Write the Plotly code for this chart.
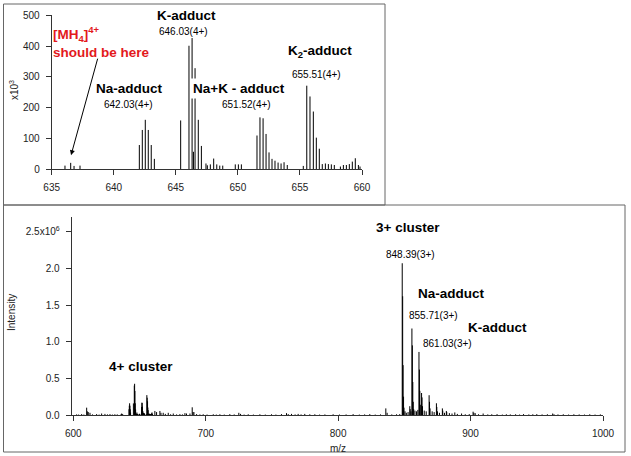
import plotly.graph_objects as go

# 4+ window (635-660 m/z), intensities in thousands of counts
zoom_mz = [636.07, 636.53, 636.80, 637.28,
           642.06, 642.30, 642.54, 642.78, 643.02, 643.27,
           645.39, 646.06, 646.31, 646.42, 646.55, 646.81, 647.06,
           647.43, 647.54, 647.78, 648.05, 648.30, 648.54, 648.78,
           649.79, 650.04, 650.28,
           651.54, 651.78, 652.03, 652.27, 652.51, 652.75, 652.99, 653.24, 653.48, 653.72, 653.98,
           655.27,
           655.55, 655.81, 656.08, 656.32, 656.56, 656.80, 657.05, 657.29, 657.53, 657.77,
           658.26, 658.50, 658.74, 658.98, 659.22, 659.46, 659.71, 659.84]
zoom_int_k = [11, 20, 10, 11,
              78, 127, 160, 127, 78, 33,
              158, 401, 426, 56, 328, 160, 75,
              18, 12, 15, 34, 15, 11, 11,
              15, 15, 15,
              109, 168, 165, 114, 54, 33, 27, 21, 18, 22, 13,
              10,
              271, 236, 187, 102, 66, 16, 18, 16, 15, 13,
              8, 13, 13, 16, 24, 35, 13, 8]

# rest of the full scan, intensities in millions of counts
wide_mz = [602.5, 604.0, 606.3, 608.0, 610.1, 610.6, 611.3, 612.6, 614.5, 617.6, 619.5,
           621.4, 623.9, 625.8, 627.7, 629.5, 631.4, 633.2,
           661.6, 662.9, 665.4, 666.2, 667.9, 669.5, 671.7, 673.5, 675.5, 678.0, 680.5,
           682.4, 684.3, 685.5, 688.1, 689.8, 690.4, 691.1, 693.1, 695.6, 698.1, 701.0,
           705.7, 708.0, 710.7, 714.0, 718.2, 721.5, 725.0, 726.3, 729.0, 732.1, 736.0,
           740.9, 745.0, 749.7, 753.0, 757.2, 761.0, 762.3, 764.8, 767.5, 769.8, 772.0,
           774.8, 778.6, 782.4, 786.0, 790.0, 796.2, 801.0, 806.0, 811.3, 816.0, 820.0,
           823.9, 828.0, 832.0, 836.0, 837.0, 840.5, 844.1, 846.5,
           848.39, 848.72, 849.05, 849.39, 849.72, 850.5, 851.5, 852.8, 854.1, 854.4, 855.0,
           855.71, 856.04, 856.38, 856.71, 857.05, 858.0, 859.2, 860.2,
           861.03, 861.36, 861.70, 862.03, 863.0, 863.35, 863.7, 865.0, 866.5,
           868.7, 869.0, 869.4, 871.0, 872.5, 874.2, 874.5, 875.0, 876.5,
           878.7, 879.0, 880.3, 881.7, 882.0, 884.0, 886.0, 888.1, 890.0, 893.2, 896.0,
           899.0, 901.9, 902.5, 903.5, 906.0, 909.5, 913.0, 916.0, 920.0, 924.0, 927.0,
           930.0, 934.0, 937.0, 940.0, 944.0, 947.0, 950.0, 954.0, 958.0, 962.0, 963.0,
           966.0, 970.0, 974.0, 978.0, 982.0, 986.0, 990.0, 994.0, 998.0]
wide_int_m = [0.008, 0.006, 0.012, 0.006, 0.10, 0.05, 0.04, 0.03, 0.008, 0.012, 0.006,
              0.02, 0.015, 0.008, 0.012, 0.006, 0.01, 0.008,
              0.055, 0.04, 0.055, 0.03, 0.03, 0.015, 0.03, 0.01, 0.02, 0.008, 0.012,
              0.008, 0.025, 0.02, 0.02, 0.105, 0.04, 0.04, 0.012, 0.008, 0.01, 0.006,
              0.01, 0.006, 0.01, 0.006, 0.012, 0.008, 0.03, 0.015, 0.006, 0.01, 0.006,
              0.01, 0.006, 0.01, 0.006, 0.012, 0.025, 0.012, 0.015, 0.008, 0.015, 0.008,
              0.015, 0.01, 0.01, 0.006, 0.008, 0.01, 0.006, 0.008, 0.012, 0.006, 0.008,
              0.012, 0.006, 0.008, 0.09, 0.03, 0.008, 0.01, 0.012,
              2.07, 1.62, 0.68, 0.25, 0.10, 0.05, 0.03, 0.04, 0.12, 0.08, 0.05,
              1.18, 0.95, 0.45, 0.18, 0.08, 0.06, 0.05, 0.07,
              0.86, 0.62, 0.33, 0.14, 0.30, 0.24, 0.12, 0.06, 0.05,
              0.27, 0.18, 0.09, 0.05, 0.04, 0.16, 0.11, 0.05, 0.03,
              0.09, 0.06, 0.03, 0.055, 0.04, 0.025, 0.02, 0.035, 0.015, 0.02, 0.01,
              0.012, 0.045, 0.03, 0.025, 0.01, 0.02, 0.008, 0.01, 0.012, 0.006, 0.01,
              0.008, 0.01, 0.006, 0.012, 0.008, 0.01, 0.012, 0.008, 0.01, 0.02, 0.01,
              0.008, 0.01, 0.006, 0.01, 0.008, 0.006, 0.01, 0.006, 0.008]

FONT = "Liberation Sans, Arial, sans-serif"
AXIS_COLOR = "#333333"
RED = "#e3191c"


def sticks(mz, inten):
    xs, ys = [], []
    for m, h in zip(mz, inten):
        xs += [m, m, None]
        ys += [0, h, None]
    return xs, ys


def axis_style(**kw):
    style = dict(showline=True, linecolor=AXIS_COLOR, linewidth=1, ticks="outside",
                 ticklen=5, tickcolor=AXIS_COLOR, showgrid=False, zeroline=False,
                 automargin=False, ticklabelstandoff=4,
                 tickfont=dict(family=FONT, size=10, color="#222222"), fixedrange=True)
    style.update(kw)
    return style


fig = go.Figure()

x_top, y_top = sticks(zoom_mz, zoom_int_k)
fig.add_trace(go.Scatter(x=x_top, y=y_top, mode="lines", xaxis="x", yaxis="y",
                         line=dict(color="black", width=1), hoverinfo="skip"))

# full scan: 4+ window rescaled to millions plus the rest
full_mz = zoom_mz + wide_mz
full_int = [v / 1000 for v in zoom_int_k] + wide_int_m
x_bot, y_bot = sticks(full_mz, full_int)
fig.add_trace(go.Scatter(x=x_bot, y=y_bot, mode="lines", xaxis="x2", yaxis="y2",
                         line=dict(color="black", width=1), hoverinfo="skip"))


def label(text, x, y, size=10, bold=False, color="black", ref="", **kw):
    if bold:
        text = "<b>" + text + "</b>"
    fig.add_annotation(text=text, x=x, y=y, xref="x" + ref, yref="y" + ref,
                       showarrow=False, font=dict(family=FONT, size=size, color=color), **kw)


def paper_text(text, px, py, angle=0, size=10, color="#222222", xanchor="center",
               yanchor="middle"):
    fig.add_annotation(text=text, x=px / 631, y=1 - py / 456, xref="paper", yref="paper",
                       xanchor=xanchor, yanchor=yanchor, textangle=angle, showarrow=False,
                       font=dict(family=FONT, size=size, color=color))


# top panel labels
label("K-adduct", 645.82, 501, size=13.5, bold=True)
label("646.03(4+)", 645.58, 446)
label("Na-adduct", 641.24, 263, size=13.5, bold=True)
label("642.03(4+)", 641.15, 211)
label("Na+K - adduct", 650.11, 263, size=13.5, bold=True, bgcolor="white", borderpad=2)
label("651.52(4+)", 650.67, 211)
label("K<sub>2</sub>-adduct", 656.62, 382, size=13.5, bold=True)
label("655.51(4+)", 656.35, 306)
paper_text("<b>[MH<sub>4</sub>]<sup>4+</sup></b>", 51, 22, size=13.5, color=RED,
           xanchor="left", yanchor="top")
paper_text("<b>should be here</b>", 51, 52, size=13.5, color=RED, xanchor="left")
fig.add_annotation(x=636.56, y=45, xref="x", yref="y", ax=27, ay=-98, text="",
                   showarrow=True, arrowhead=2, arrowsize=1, arrowwidth=1, arrowcolor="black")

# bottom panel labels
label("4+ cluster", 651.1, 0.668, size=13.5, bold=True, ref="2")
label("3+ cluster", 852.6, 2.551, size=13.5, bold=True, ref="2")
label("848.39(3+)", 854.9, 2.183, ref="2")
label("Na-adduct", 885.8, 1.664, size=13.5, bold=True, ref="2")
label("855.71(3+)", 872.2, 1.364, ref="2")
label("K-adduct", 920.3, 1.2, size=13.5, bold=True, ref="2")
label("861.03(3+)", 882.8, 0.982, ref="2")

# axis titles
paper_text("x10<sup>3</sup>", 14, 90, angle=-90)
paper_text("Intensity", 11, 313, angle=-90)
paper_text("m/z", 338, 448)

# panel frames
fig.add_shape(type="rect", xref="paper", yref="paper", x0=3.5 / 631, x1=385 / 631,
              y0=1 - 205 / 456, y1=1 - 4 / 456, line=dict(color="#666666", width=1))
fig.add_shape(type="rect", xref="paper", yref="paper", x0=3.5 / 631, x1=625 / 631,
              y0=1 - 452 / 456, y1=1 - 205 / 456, line=dict(color="#666666", width=1))

fig.update_layout(
    width=631, height=456,
    margin=dict(l=0, r=0, t=0, b=0, autoexpand=False),
    paper_bgcolor="white", plot_bgcolor="white",
    showlegend=False,
    xaxis=axis_style(range=[635, 660], tickvals=[635, 640, 645, 650, 655, 660],
                     domain=[51.7 / 631, 362 / 631], anchor="y"),
    yaxis=axis_style(range=[0, 502], tickvals=[0, 100, 200, 300, 400, 500],
                     domain=[1 - 169 / 456, 1 - 14.7 / 456], anchor="x"),
    xaxis2=axis_style(range=[598.8, 1000], tickvals=[600, 700, 800, 900, 1000],
                      domain=[71.7 / 631, 603 / 631], anchor="y2"),
    yaxis2=axis_style(range=[0, 2.705], tickvals=[0, 0.5, 1.0, 1.5, 2.0, 2.5],
                      ticktext=["0.0", "0.5", "1.0", "1.5", "2.0", "2.5x10<sup>6</sup>"],
                      domain=[1 - 415 / 456, 1 - 216.7 / 456], anchor="x2"),
)

# the default page has an 8px body margin; drop it so the figure sits at the window origin
fig.write_html("out.html", config={"displayModeBar": False},
               post_script="document.body.style.margin='0';")
